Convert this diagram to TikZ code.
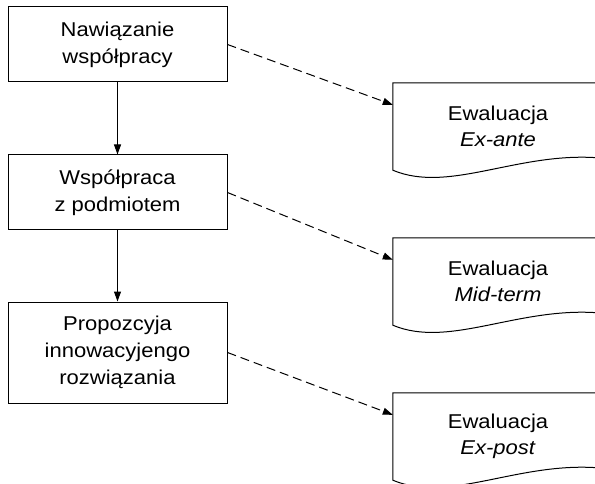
\documentclass[tikz,border=0pt]{standalone}
\usepackage{fontspec}
\setmainfont{Liberation Sans}[FakeStretch=1.1]
\usetikzlibrary{arrows.meta,calc}
\tikzset{
    stage/.style={draw,line width=1pt,minimum width=219pt,minimum height=75pt,
        align=center,font=\fontsize{20}{27}\selectfont},
    evaldoc/.style={minimum width=210pt,minimum height=87pt,
        align=center,font=\fontsize{20}{26}\selectfont},
    flow/.style={line width=1pt,-{Triangle[length=10pt,width=7pt]}},
    link/.style={flow,dash pattern=on 9pt off 5pt},
}
\begin{document}
\begin{tikzpicture}[x=1pt,y=-1pt]
    \useasboundingbox (0,0) rectangle (595,484);
    %% stages
    \node[stage] (s1) at (117.5,44.5) {Nawiązanie\\współpracy};
    \node[stage] (s2) at (117.5,192.5) {Współpraca\\z podmiotem};
    \node[stage,minimum height=101pt] (s3) at (117.5,352.5) {Propozcyja\\innowacyjengo\\rozwiązania};
    %% evaluations
    \node[evaldoc] (ev1) at (498,126.5) {Ewaluacja\\\textit{Ex-ante}};
    \node[evaldoc] (ev2) at (498,281.5) {Ewaluacja\\\textit{Mid-term}};
    \node[evaldoc] (ev3) at (498,436.5) {Ewaluacja\\\textit{Ex-post}};
    \foreach \ev in {ev1,ev2,ev3}
        \draw[line width=1pt] (\ev.north east) -- (\ev.north west) -- (\ev.south west)
            .. controls ($(\ev.south west)+(57,24)$) and ($(\ev.south west)+(127,-20)$)
            .. ($(\ev.south west)+(210,-12)$) -- (\ev.north east);
    %% flow
    \draw[flow] (s1) -- (s2);
    \draw[flow] (s2) -- (s3);
    %% evaluation links
    \draw[link] (s1.east) -- ([yshift=-22pt]ev1.north west);
    \draw[link] (s2.east) -- ([yshift=-22pt]ev2.north west);
    \draw[link] (s3.east) -- ([yshift=-22pt]ev3.north west);
\end{tikzpicture}
\end{document}
